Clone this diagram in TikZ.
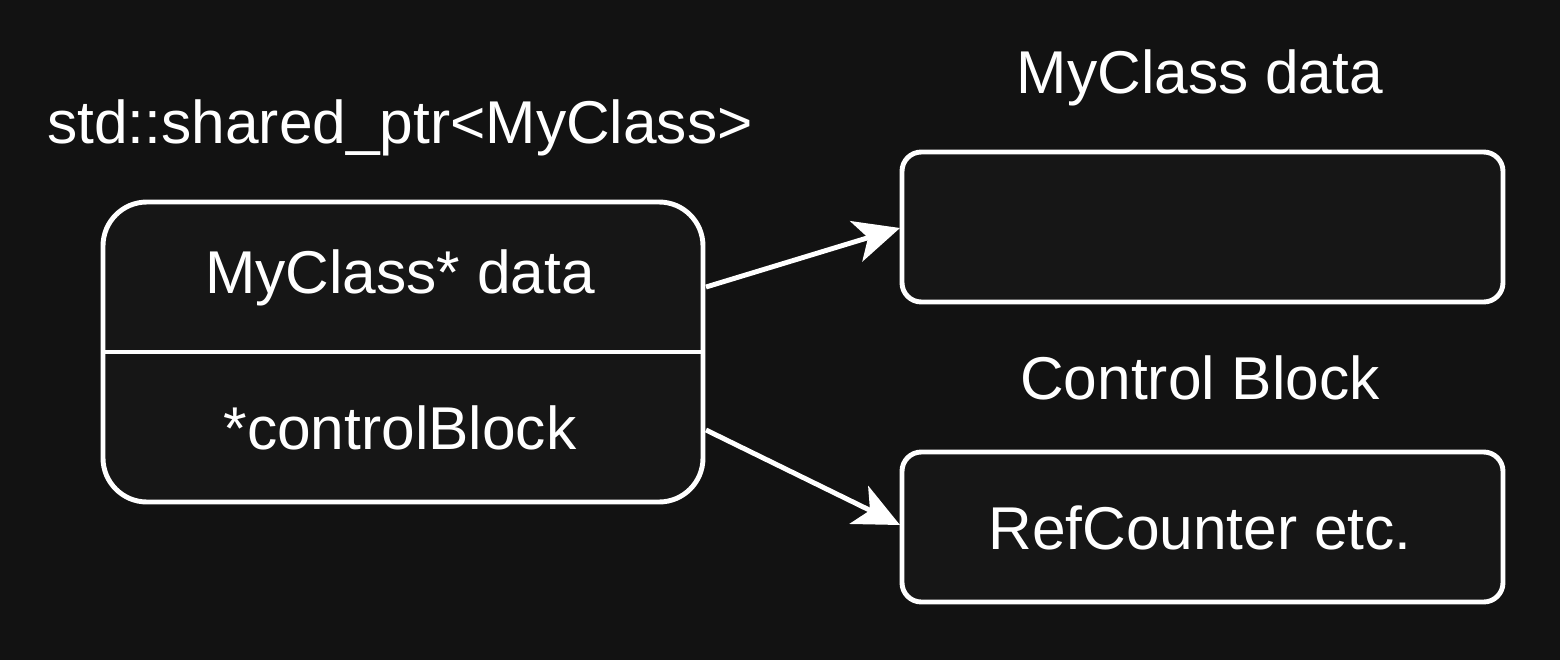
\documentclass[tikz,border=0pt]{standalone}
\usepackage{fontspec}
\setmainfont{Liberation Sans}
\usetikzlibrary{arrows.meta}
\definecolor{bg}{HTML}{121212}
\definecolor{boxfill}{HTML}{161616}
\begin{document}
\begin{tikzpicture}[x=0.02cm,y=-0.02cm,
  box/.style={draw=white,line width=2.8pt,fill=boxfill},
  lbl/.style={text=white,font=\fontsize{34.4}{40}\selectfont,inner sep=0pt},
  arr/.style={draw=white,line width=2.8pt,-{Stealth[length=26pt,width=24pt,inset=7pt]}}]
\fill[bg] (0,0) rectangle (1560,660);
\useasboundingbox (0,0) rectangle (1560,660);
\draw[box,rounded corners=25pt] (103,202) rectangle (703,502);
\draw[white,line width=2.8pt] (103,352) -- (703,352);
\draw[box,rounded corners=11pt] (902,152) rectangle (1503,302);
\draw[box,rounded corners=11pt] (902,452) rectangle (1503,602);
\node[lbl] (title) at (400,128) {std::shared\_ptr<MyClass>};
\node[lbl] (dat) at (400,278) {MyClass* data};
\node[lbl] (cb) at (400,428) {*controlBlock};
\node[lbl] (t1) at (1200,78) {MyClass data};
\node[lbl] (t2) at (1200,378) {Control Block};
\node[lbl] (rc) at (1200,528) {RefCounter etc.};
\coordinate (a1s) at (706,287);
\coordinate (a1e) at (900,228);
\coordinate (a2s) at (706,430);
\coordinate (a2e) at (900,525);
\draw[arr] (a1s) -- (a1e);
\draw[arr] (a2s) -- (a2e);
\end{tikzpicture}
\end{document}
